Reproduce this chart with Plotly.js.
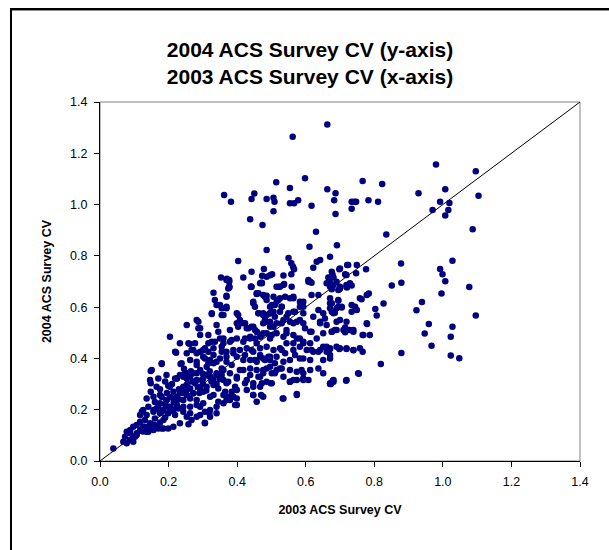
<!DOCTYPE html>
<html>
<head>
<meta charset="utf-8">
<script src="https://cdn.plot.ly/plotly-3.0.1.min.js"></script>
<style>html,body{margin:0;padding:0;background:#fff;}#chart{width:609px;height:550px;}</style>
</head>
<body>
<div id="chart"></div>
<script>
// [2003 CV, 2004 CV] pairs, grouped by region
const topOutliers = [[0.663,1.312],[0.562,1.264],[0.362,1.037],[0.382,1.011],[0.438,0.943],[0.442,1.022],[0.450,1.043],[0.474,0.920],[0.486,1.022],[0.506,1.027],[0.509,1.011],[0.506,0.974],[0.514,1.087],[0.554,1.065],[0.554,1.005],[0.566,1.005],[0.578,1.017],[0.598,1.103],[0.617,0.995],[0.663,1.060],[0.687,1.044],[0.683,1.017],[0.687,0.963],[0.630,0.894],[0.611,0.836],[0.691,0.841],[0.671,0.797],[0.486,0.823],[0.403,0.780],[0.550,0.792],[0.558,0.771],[0.563,0.758],[0.566,0.748],[0.642,0.784],[0.632,0.777],[0.622,0.754],[0.353,0.716],[0.370,0.711],[0.377,0.706],[0.418,0.716],[0.442,0.738],[0.478,0.749],[0.473,0.722],[0.486,0.719],[0.496,0.724],[0.502,0.728],[0.535,0.723],[0.558,0.728],[0.608,0.706],[0.617,0.695],[0.671,0.715],[0.678,0.728],[0.698,0.748],[0.721,0.764],[0.715,0.728],[0.690,0.699],[0.441,0.680],[0.470,0.695],[0.377,0.680],[0.522,0.680],[0.537,0.690],[0.681,0.686],[0.698,0.670]];
const rightUpper = [[0.980,1.156],[1.096,1.130],[0.766,1.092],[0.823,1.080],[0.929,1.044],[1.007,1.060],[0.734,1.011],[0.742,1.011],[0.747,1.011],[0.783,1.017],[0.811,1.011],[0.734,0.984],[0.992,1.011],[1.019,1.006],[0.970,0.979],[1.016,0.979],[1.007,0.957],[1.104,1.034],[0.835,0.883],[1.087,0.904],[0.878,0.770],[1.028,0.781],[0.992,0.749],[0.999,0.728],[1.007,0.701],[0.879,0.695],[0.851,0.684],[1.077,0.679],[0.776,0.748],[0.749,0.764],[0.747,0.732],[0.724,0.764],[0.719,0.725],[0.676,0.719],[0.729,0.693],[0.734,0.684],[0.721,0.680]];
const rightLower = [[0.996,0.653],[1.096,0.567],[0.784,0.653],[0.763,0.631],[0.827,0.614],[0.803,0.593],[0.807,0.567],[0.923,0.588],[0.939,0.620],[0.959,0.534],[0.947,0.497],[0.967,0.449],[1.028,0.524],[1.023,0.485],[1.023,0.411],[1.048,0.401],[0.779,0.534],[0.766,0.491],[0.787,0.491],[0.739,0.511],[0.715,0.521],[0.715,0.502],[0.685,0.511],[0.676,0.504],[0.766,0.426],[0.739,0.432],[0.719,0.437],[0.698,0.437],[0.671,0.437],[0.879,0.421],[0.819,0.378],[0.755,0.340],[0.718,0.313],[0.679,0.313],[0.674,0.300],[0.734,0.608],[0.744,0.602],[0.749,0.589],[0.734,0.582],[0.705,0.599],[0.695,0.625],[0.685,0.578],[0.676,0.615],[0.720,0.677],[0.676,0.670]];
const denseA = [[0.369,0.706],[0.377,0.680],[0.331,0.656],[0.369,0.644],[0.335,0.628],[0.442,0.680],[0.472,0.693],[0.515,0.680],[0.535,0.686],[0.559,0.680],[0.608,0.699],[0.617,0.647],[0.637,0.647],[0.671,0.680],[0.695,0.667],[0.719,0.680],[0.457,0.654],[0.476,0.647],[0.486,0.628],[0.525,0.635],[0.554,0.635],[0.564,0.641],[0.593,0.621],[0.671,0.615],[0.695,0.628],[0.340,0.608],[0.355,0.596],[0.369,0.602],[0.326,0.576],[0.360,0.569],[0.399,0.576],[0.447,0.615],[0.452,0.602],[0.462,0.576],[0.476,0.576],[0.486,0.569],[0.501,0.608],[0.506,0.582],[0.515,0.621],[0.530,0.602],[0.544,0.563],[0.564,0.582],[0.583,0.602],[0.593,0.576],[0.622,0.563],[0.651,0.576],[0.676,0.582],[0.690,0.596],[0.705,0.602],[0.690,0.543],[0.642,0.537],[0.661,0.530],[0.710,0.511],[0.282,0.550],[0.253,0.530],[0.287,0.518],[0.399,0.537],[0.418,0.537],[0.428,0.518],[0.447,0.524],[0.476,0.537],[0.496,0.543],[0.515,0.537],[0.535,0.550],[0.554,0.543],[0.574,0.543],[0.593,0.537],[0.613,0.504],[0.651,0.498],[0.676,0.504],[0.729,0.511]];
const denseB = [[0.204,0.485],[0.233,0.459],[0.258,0.459],[0.277,0.459],[0.292,0.491],[0.316,0.491],[0.335,0.465],[0.360,0.478],[0.379,0.465],[0.399,0.478],[0.418,0.465],[0.438,0.478],[0.457,0.504],[0.467,0.485],[0.486,0.498],[0.496,0.478],[0.515,0.498],[0.544,0.498],[0.574,0.478],[0.593,0.459],[0.613,0.459],[0.632,0.478],[0.651,0.446],[0.671,0.440],[0.690,0.446],[0.719,0.440],[0.219,0.426],[0.253,0.420],[0.267,0.433],[0.282,0.420],[0.301,0.433],[0.316,0.426],[0.331,0.440],[0.355,0.446],[0.369,0.426],[0.389,0.433],[0.408,0.433],[0.428,0.440],[0.447,0.426],[0.467,0.440],[0.486,0.446],[0.506,0.433],[0.525,0.440],[0.544,0.459],[0.564,0.433],[0.583,0.446],[0.603,0.433],[0.622,0.426],[0.642,0.433],[0.661,0.426],[0.671,0.413]];
const denseC = [[0.151,0.355],[0.180,0.381],[0.238,0.381],[0.263,0.394],[0.282,0.387],[0.306,0.400],[0.321,0.394],[0.350,0.400],[0.369,0.387],[0.399,0.407],[0.418,0.394],[0.452,0.394],[0.476,0.400],[0.496,0.394],[0.515,0.407],[0.535,0.387],[0.554,0.394],[0.583,0.400],[0.613,0.394],[0.651,0.394],[0.671,0.400],[0.146,0.316],[0.170,0.322],[0.194,0.335],[0.224,0.322],[0.248,0.342],[0.263,0.329],[0.282,0.342],[0.301,0.322],[0.321,0.329],[0.340,0.335],[0.360,0.316],[0.379,0.342],[0.399,0.329],[0.418,0.355],[0.438,0.335],[0.462,0.329],[0.476,0.355],[0.501,0.342],[0.515,0.355],[0.530,0.361],[0.554,0.355],[0.574,0.348],[0.593,0.342],[0.613,0.355],[0.651,0.342],[0.681,0.316],[0.671,0.303],[0.719,0.316],[0.447,0.303],[0.467,0.290],[0.501,0.303],[0.554,0.309],[0.574,0.316],[0.593,0.322]];
const denseD = [[0.126,0.199],[0.141,0.212],[0.156,0.192],[0.165,0.205],[0.175,0.186],[0.185,0.199],[0.199,0.212],[0.214,0.199],[0.228,0.205],[0.243,0.192],[0.263,0.212],[0.282,0.218],[0.292,0.179],[0.306,0.192],[0.321,0.199],[0.340,0.212],[0.360,0.225],[0.379,0.238],[0.399,0.218],[0.389,0.251],[0.360,0.257],[0.331,0.257],[0.301,0.270],[0.272,0.264],[0.253,0.257],[0.233,0.264],[0.214,0.244],[0.194,0.238],[0.175,0.257],[0.156,0.251],[0.136,0.244],[0.306,0.147],[0.258,0.143],[0.199,0.127],[0.214,0.134],[0.233,0.147],[0.253,0.173],[0.267,0.160],[0.282,0.173],[0.321,0.173],[0.340,0.186],[0.369,0.238],[0.476,0.251],[0.535,0.244],[0.574,0.257],[0.428,0.277],[0.399,0.277],[0.447,0.257],[0.117,0.179],[0.131,0.160],[0.146,0.147],[0.165,0.134],[0.180,0.127]];
const nearOrigin = [[0.039,0.049],[0.073,0.095],[0.078,0.069],[0.088,0.082],[0.097,0.095],[0.107,0.108],[0.117,0.121],[0.126,0.134],[0.097,0.075],[0.068,0.075],[0.088,0.108],[0.141,0.114],[0.156,0.121],[0.078,0.114],[0.092,0.082],[0.107,0.101],[0.097,0.134],[0.131,0.134],[0.136,0.114],[0.117,0.153],[0.107,0.140],[0.088,0.121],[0.102,0.095]];
const lowerLeftE = [[0.180,0.378],[0.235,0.378],[0.148,0.351],[0.148,0.303],[0.148,0.270],[0.199,0.293],[0.224,0.322],[0.248,0.342],[0.292,0.212],[0.319,0.186],[0.306,0.149],[0.170,0.127],[0.185,0.127],[0.122,0.192],[0.374,0.251],[0.345,0.231],[0.369,0.303],[0.355,0.335],[0.233,0.335],[0.253,0.322],[0.272,0.342],[0.292,0.355],[0.311,0.368],[0.331,0.381],[0.277,0.303],[0.297,0.316],[0.321,0.329],[0.340,0.342],[0.360,0.355],[0.253,0.277],[0.272,0.264],[0.292,0.283],[0.311,0.290],[0.331,0.296],[0.224,0.251],[0.243,0.238],[0.263,0.244],[0.282,0.238],[0.194,0.238],[0.175,0.225],[0.204,0.212],[0.224,0.218],[0.243,0.212],[0.156,0.199],[0.180,0.192],[0.199,0.186],[0.219,0.179],[0.136,0.179],[0.160,0.166],[0.185,0.160],[0.243,0.290],[0.263,0.283],[0.345,0.283],[0.365,0.270],[0.214,0.270],[0.321,0.251],[0.301,0.225],[0.263,0.186]];
const clusterExtra = [[0.160,0.230],[0.170,0.210],[0.190,0.220],[0.205,0.250],[0.215,0.230],[0.230,0.280],[0.240,0.265],[0.255,0.300],[0.270,0.310],[0.285,0.290],[0.300,0.300],[0.230,0.240],[0.205,0.195],[0.190,0.170],[0.175,0.150],[0.160,0.140],[0.145,0.130],[0.125,0.115],[0.290,0.265],[0.310,0.275],[0.325,0.310],[0.340,0.300],[0.350,0.320],[0.320,0.350],[0.300,0.340],[0.265,0.350],[0.245,0.360],[0.210,0.300],[0.195,0.265],[0.180,0.250],[0.190,0.310],[0.175,0.280]];
const lowerMidF = [[0.394,0.290],[0.384,0.270],[0.399,0.244],[0.394,0.218],[0.423,0.303],[0.447,0.290],[0.447,0.257],[0.457,0.231],[0.470,0.257],[0.472,0.303],[0.498,0.303],[0.533,0.244],[0.554,0.309],[0.574,0.261],[0.593,0.316],[0.671,0.300],[0.681,0.309]];
const midG = [[0.377,0.699],[0.374,0.673],[0.369,0.641],[0.350,0.608],[0.369,0.596],[0.326,0.573],[0.355,0.569],[0.403,0.569],[0.440,0.680],[0.467,0.693],[0.462,0.654],[0.481,0.641],[0.496,0.602],[0.287,0.543],[0.292,0.518],[0.340,0.530],[0.345,0.504],[0.379,0.511],[0.408,0.550],[0.423,0.537],[0.403,0.524],[0.433,0.518],[0.262,0.456],[0.316,0.459],[0.326,0.465],[0.350,0.478],[0.360,0.459],[0.384,0.472],[0.423,0.478],[0.438,0.485],[0.457,0.459],[0.472,0.491],[0.496,0.524],[0.481,0.550],[0.496,0.576],[0.510,0.563],[0.222,0.422],[0.272,0.433],[0.292,0.426],[0.306,0.440],[0.301,0.407],[0.331,0.413],[0.355,0.426],[0.369,0.407],[0.389,0.420],[0.423,0.413],[0.438,0.394],[0.467,0.407],[0.491,0.407],[0.282,0.374],[0.316,0.381],[0.340,0.387],[0.355,0.361],[0.384,0.374],[0.408,0.355],[0.438,0.361],[0.457,0.355],[0.496,0.368],[0.219,0.322],[0.243,0.329],[0.258,0.342],[0.282,0.316],[0.311,0.335],[0.331,0.316],[0.350,0.335],[0.374,0.309],[0.399,0.322],[0.428,0.316],[0.467,0.329],[0.486,0.309],[0.165,0.290],[0.204,0.290],[0.253,0.296]];
const midH = [[0.472,0.695],[0.525,0.680],[0.613,0.699],[0.671,0.695],[0.700,0.673],[0.457,0.651],[0.486,0.644],[0.506,0.641],[0.520,0.628],[0.540,0.641],[0.564,0.635],[0.671,0.635],[0.447,0.621],[0.510,0.608],[0.530,0.602],[0.583,0.621],[0.593,0.602],[0.671,0.596],[0.695,0.602],[0.758,0.635],[0.778,0.647],[0.462,0.576],[0.476,0.569],[0.496,0.576],[0.525,0.582],[0.549,0.576],[0.569,0.582],[0.637,0.589],[0.681,0.576],[0.486,0.543],[0.506,0.524],[0.530,0.537],[0.544,0.511],[0.564,0.537],[0.583,0.550],[0.598,0.518],[0.642,0.543],[0.656,0.556],[0.700,0.550],[0.719,0.543],[0.778,0.537],[0.457,0.504],[0.452,0.478],[0.476,0.498],[0.501,0.491],[0.535,0.485],[0.564,0.491],[0.583,0.478],[0.617,0.504],[0.690,0.511],[0.739,0.504],[0.768,0.491],[0.564,0.459],[0.593,0.465],[0.617,0.433],[0.637,0.426],[0.661,0.446],[0.666,0.433],[0.700,0.440],[0.739,0.433],[0.758,0.440],[0.442,0.433],[0.467,0.413],[0.496,0.407],[0.530,0.433],[0.540,0.420],[0.569,0.413],[0.593,0.400],[0.457,0.387],[0.481,0.394],[0.510,0.381],[0.525,0.361],[0.510,0.342],[0.535,0.329],[0.588,0.355],[0.637,0.361],[0.608,0.316],[0.753,0.342],[0.564,0.316],[0.593,0.320],[0.476,0.342],[0.486,0.361],[0.442,0.524],[0.452,0.511],[0.666,0.716],[0.676,0.738],[0.681,0.716],[0.700,0.751],[0.717,0.725],[0.661,0.693],[0.700,0.680],[0.719,0.686],[0.377,0.677]];

const diagonalX = [0, 1.4];
const diagonalY = [0, 1.4];
const tickVals = [0, 0.2, 0.4, 0.6, 0.8, 1.0, 1.2, 1.4];

const allPts = [].concat(topOutliers, rightUpper, rightLower, denseA, denseB, denseC, denseD, nearOrigin, lowerLeftE, clusterExtra, lowerMidF, midG, midH);
const cv2003 = allPts.map(p => p[0]);
const cv2004 = allPts.map(p => p[1]);

const traces = [
  {x: diagonalX, y: diagonalY, type: 'scatter', mode: 'lines', line: {color: '#000', width: 1}, hoverinfo: 'skip', cliponaxis: false},
  {x: cv2003, y: cv2004, type: 'scatter', mode: 'markers', marker: {color: '#000080', size: 6.5, symbol: 'circle', line: {width: 0}}}
];

// plot area: x 100..580, y 102..461 px
const pxX = px => (px - 100) / 480;
const pxY = py => (461 - py) / 359;

const layout = {
  width: 609, height: 550,
  margin: {l: 100, r: 29, t: 102, b: 89},
  paper_bgcolor: '#fff', plot_bgcolor: '#fff',
  showlegend: false,
  font: {family: 'Liberation Sans, Arial, sans-serif', color: '#000', size: 12},
  title: {
    text: '<b>2004 ACS Survey CV (y-axis)</b><br><b>2003 ACS Survey CV (x-axis)</b>',
    font: {size: 21, color: '#000', family: 'Liberation Sans, Arial, sans-serif', weight: 'normal'},
    x: 310 / 609, xanchor: 'center', xref: 'container',
    y: 1 - 57 / 550, yanchor: 'middle', yref: 'container'
  },
  xaxis: {
    range: [0, 1.4], tickvals: tickVals, tickformat: '.1f',
    ticks: 'outside', ticklen: 5, tickcolor: '#000', tickwidth: 1,
    showline: true, linecolor: '#000', linewidth: 1,
    showgrid: false, zeroline: false, fixedrange: true,
    ticklabelstandoff: 4,
    tickfont: {size: 12.5, color: '#000'},
    title: {text: '<b>2003 ACS Survey CV</b>', font: {size: 12.5, color: '#000'}, standoff: 17}
  },
  yaxis: {
    range: [0, 1.4], tickvals: tickVals, tickformat: '.1f',
    ticks: 'outside', ticklen: 5, tickcolor: '#000', tickwidth: 1,
    showline: true, linecolor: '#000', linewidth: 1,
    showgrid: false, zeroline: false, fixedrange: true,
    ticklabelstandoff: 4,
    tickfont: {size: 12.5, color: '#000'},
    title: {text: '<b>2004 ACS Survey CV</b>', font: {size: 12.5, color: '#000'}, standoff: 15}
  },
  shapes: [
    {type: 'rect', xref: 'paper', yref: 'paper', x0: 0, x1: 1, y0: 0, y1: 1, line: {color: '#808080', width: 1}, layer: 'below'},
    {type: 'line', xref: 'paper', yref: 'paper', x0: pxX(11), x1: pxX(609), y0: pxY(9), y1: pxY(9), line: {color: '#000', width: 2}},
    {type: 'line', xref: 'paper', yref: 'paper', x0: pxX(12), x1: pxX(609), y0: pxY(10.5), y1: pxY(10.5), line: {color: '#909090', width: 1}},
    {type: 'line', xref: 'paper', yref: 'paper', x0: pxX(11), x1: pxX(11), y0: pxY(8), y1: pxY(551), line: {color: '#000', width: 2}}
  ]
};

Plotly.newPlot('chart', traces, layout, {displayModeBar: false, staticPlot: true});
</script>
</body>
</html>
